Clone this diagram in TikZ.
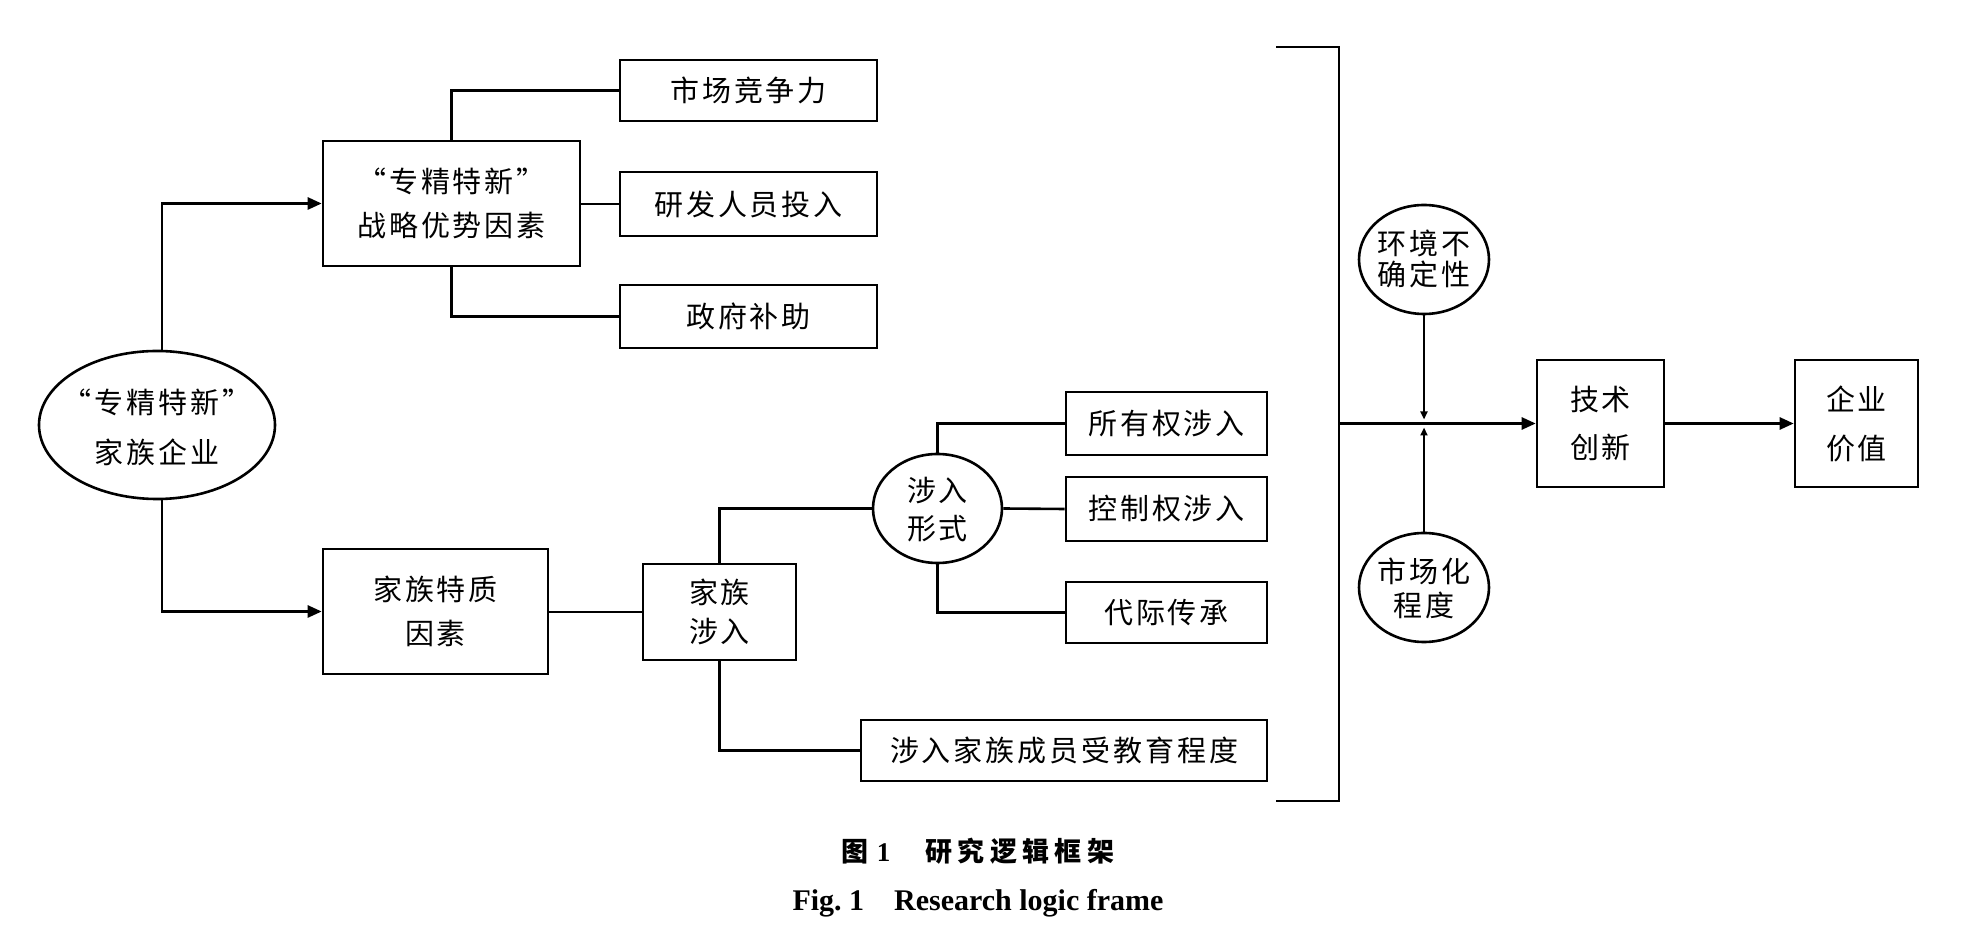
\documentclass[tikz,border=0pt]{standalone}
\usepackage{fontspec}
\setmainfont{Liberation Serif}
\newfontfamily\cjk{Noto Sans CJK SC}[LetterSpace=10]
\newfontfamily\cjkcap{Noto Sans CJK SC}[LetterSpace=20]
\usetikzlibrary{arrows.meta,shapes.geometric}
\begin{document}
\begin{tikzpicture}[x=0.5pt,y=-0.5pt,
  line width=1.3pt,
  box/.style={draw, rectangle, inner sep=0pt, align=center,
    font=\cjk\fontsize{14.5pt}{#1}\selectfont},
  box/.default=22pt,
  oval/.style={draw, ellipse, inner sep=0pt},
  txt/.style={inner sep=0pt, align=center, font=\cjk\fontsize{14.5pt}{#1}\selectfont},
  txt/.default=22pt,
  arr/.style={-{Triangle[length=7pt,width=6pt]}},
  tick/.style={line width=1pt,-{Triangle[length=4pt,width=3.5pt]}},
  link/.style={line width=1.3pt}
]
\fill[white] (0,0) rectangle (1972,940);
\useasboundingbox (0,0) rectangle (1972,940);

% left part
\node[oval, minimum width=118pt, minimum height=74pt] (E) at (157,425) {};
\node[txt=25pt] (Et) at (157,427) {“专精特新”\\家族企业};
\coordinate (Et0) at ([xshift=2.5pt]E.north);
\coordinate (Eb0) at ([xshift=2.5pt]E.south);

\node[box, minimum width=128.5pt, minimum height=62.5pt] (S) at (451.5,203.5) {“专精特新”\\战略优势因素};
\node[box, minimum width=128.5pt, minimum height=30.5pt] (R1) at (748.5,90.5) {市场竞争力};
\node[box, minimum width=128.5pt, minimum height=32pt] (R2) at (748.5,204) {研发人员投入};
\node[box, minimum width=128.5pt, minimum height=31.5pt] (R3) at (748.5,316.5) {政府补助};

\node[box, minimum width=112.5pt, minimum height=62.5pt] (F) at (435.5,611.5) {家族特质\\因素};
\node[box=19.5pt, minimum width=76.5pt, minimum height=48pt] (J) at (719.5,612) {家族\\涉入};

\node[oval, minimum width=64.5pt, minimum height=54.5pt] (I) at (937.5,508.5) {};
\node[txt=19pt] (It) at (937.5,510) {涉入\\形式};

\node[box, minimum width=100.5pt, minimum height=31.5pt] (B1) at (1166.5,423.5) {所有权涉入};
\node[box, minimum width=100.5pt, minimum height=32pt] (B2) at (1166.5,509) {控制权涉入};
\node[box, minimum width=100.5pt, minimum height=30.5pt] (B3) at (1166.5,612.5) {代际传承};
\node[box, minimum width=203pt, minimum height=30.5pt] (B4) at (1064,750.5) {涉入家族成员受教育程度};

% bracket
\coordinate (bt) at (1276,47);
\coordinate (bb) at (1276,801);
\coordinate (bm) at (1339,423.5);
\draw[line width=1.1pt] (bt) -| (bm) |- (bb);

% right part
\node[oval, minimum width=65pt, minimum height=54.5pt] (U) at (1424,259.5) {};
\node[txt=15.5pt] (Ut) at (1424,258.5) {环境不\\确定性};
\node[oval, minimum width=65pt, minimum height=54.5pt] (M) at (1424,587.5) {};
\node[txt=17pt] (Mt) at (1424,588) {市场化\\程度};

\node[box=24pt, minimum width=63.5pt, minimum height=63.5pt] (T) at (1600.5,423.5) {技术\\创新};
\node[box=24.5pt, minimum width=61.5pt, minimum height=63.5pt] (V) at (1856.5,423.5) {企业\\价值};

% connectors
\draw[link,arr] (Et0) |- (S.west);
\draw[link,arr] (Eb0) |- (F.west);
\draw[link] (S.north) |- (R1.west);
\draw[link] (S.east |- R2.west) -- (R2.west);
\draw[link] (S.south) |- (R3.west);
\draw[link] (F.east |- J.west) -- (J.west);
\draw[link] (J.north) |- (I.west);
\draw[link] (J.south) |- (B4.west);
\draw[link] (I.north) |- (B1.west);
\draw[link] (I.east) -- (B2.west);
\draw[link] (I.south) |- (B3.west);

\draw[link,arr] (bm) -- (T.west);
\draw[link,arr] (T.east) -- (V.west);
\draw[tick] (U.south) -- ([yshift=2pt]U.south |- bm);
\draw[tick] (M.north) -- ([yshift=-2pt]M.north |- bm);

% caption
\node[anchor=base, inner sep=0pt, font=\fontsize{13.5pt}{15pt}\selectfont] (cap1) at (978,862)
  {{\cjkcap\bfseries 图}\hspace{0.3em}{\bfseries 1}\hspace{1.3em}{\cjkcap\bfseries 研究逻辑框架}};
\node[anchor=base, inner sep=0pt, font=\bfseries\fontsize{15pt}{17pt}\selectfont] (cap2) at (978,910)
  {Fig.~1\hspace{1em}Research logic frame};
\end{tikzpicture}
\end{document}
